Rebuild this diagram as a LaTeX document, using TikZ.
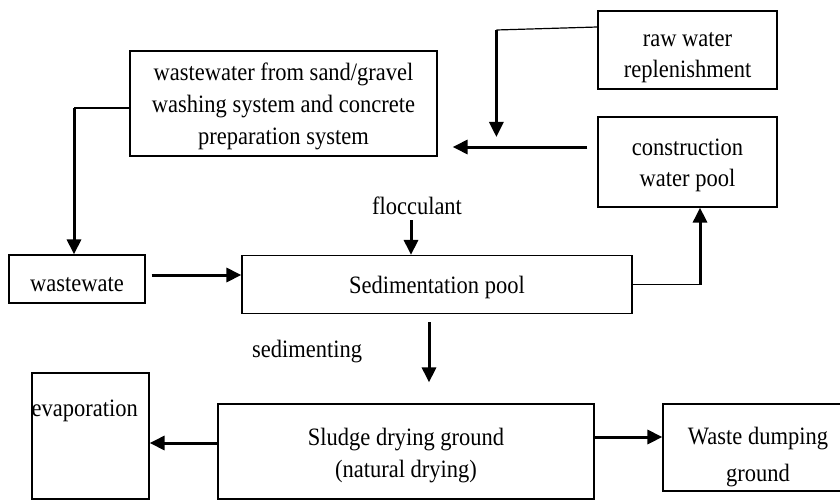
\documentclass[tikz,border=0pt]{standalone}
\usepackage{fontspec}
\setmainfont{Liberation Serif}[FakeStretch=0.9]
\usetikzlibrary{arrows.meta,positioning,calc}
\newcommand{\topgap}[1]{\rule{0pt}{#1}}

\begin{document}
\begin{tikzpicture}[
  x=1pt, y=-1pt,
  >={Triangle[length=15pt,width=14pt]},
  every node/.style={font=\fontsize{25}{31}\selectfont},
  unit/.style={rectangle, draw, line width=1.2pt, inner sep=0pt, align=center},
  thinline/.style={line width=1.2pt},
  flow/.style={->, line width=3pt},
]
\useasboundingbox (0,0) rectangle (840,500);

% upper row
\node[unit, minimum width=179pt, minimum height=78pt] at (687.5,50) (raw) {\topgap{29pt}raw water\\replenishment};
\node[unit, minimum width=307pt, minimum height=105pt, font=\fontsize{25}{32}\selectfont] at (283.5,103.5) (src)
  {\topgap{24pt}wastewater from sand/gravel\\washing system and concrete\\preparation system};
\node[unit, minimum width=179pt, minimum height=90pt] at (687.5,162) (pool) {\topgap{23pt}construction\\water pool};

% middle row
\node[unit, minimum width=136pt, minimum height=48pt] at (77,279) (ww) {\topgap{26pt}wastewate};
\node[unit, minimum width=390pt, minimum height=58pt] at (437,284.5) (sed) {\topgap{23pt}Sedimentation pool};
\node at (417,206) (floc) {flocculant};
\node at (307,352) (sedlabel) {sedimenting};

% lower row
\node[unit, minimum width=117pt, minimum height=126pt,
      label={[anchor=north west, inner sep=0pt, yshift=-22pt]north west:{\strut evaporation}}] at (90.5,436) (evap) {};
\node[unit, minimum width=376pt, minimum height=95pt, font=\fontsize{25}{32}\selectfont] at (406,451.5) (sludge)
  {\topgap{25pt}Sludge drying ground\\(natural drying)};
\node[unit, minimum width=190pt, minimum height=87pt] at (758,447.5) (dump) {\topgap{36pt}Waste dumping\\[6pt]ground};

% turning points
\coordinate (rawturn) at ($(raw.west)+(-101,-20)$);
\coordinate (rawend) at ($(rawturn)+(0,107)$);
\coordinate (srcturn) at ([yshift=-4.5pt]src.west -| 74,0);
\coordinate (sedturn) at ([xshift=12.5pt]sed.east -| pool.south);

% raw water into the loop
\draw[thinline] ([yshift=1pt]raw.west |- 0,28) -- (rawturn);
\draw[flow] (rawturn) -- (rawend);
\draw[flow, shorten <=10pt, shorten >=15pt] ([yshift=15pt]pool.west) -- ([yshift=15pt]pool.west -| src.east);

% wastewater to sedimentation
\draw[thinline] ([yshift=-4.5pt]src.west) -- (srcturn);
\draw[flow] (srcturn) -- (srcturn |- ww.north);
\draw[flow, shorten <=6pt] ([yshift=4pt]ww.east) -- ([yshift=4pt]ww.east -| sed.west);
\draw[flow] ([xshift=-6pt, yshift=-2pt]floc.south) -- ([xshift=-6pt]floc.south |- sed.north);

% reuse
\draw[thinline] (sed.east) -- (sedturn);
\draw[flow] (sedturn) -- (sedturn |- pool.south);

% sludge
\draw[flow, shorten <=8pt, shorten >=21pt] ([xshift=-8pt]sed.south) -- ([xshift=-8pt]sed.south |- sludge.north);
\draw[flow] ([yshift=8.5pt]sludge.west) -- ([yshift=8.5pt]sludge.west -| evap.east);
\draw[flow] ([yshift=14.5pt]sludge.east) -- ([yshift=14.5pt]sludge.east -| dump.west);

\end{tikzpicture}
\end{document}
